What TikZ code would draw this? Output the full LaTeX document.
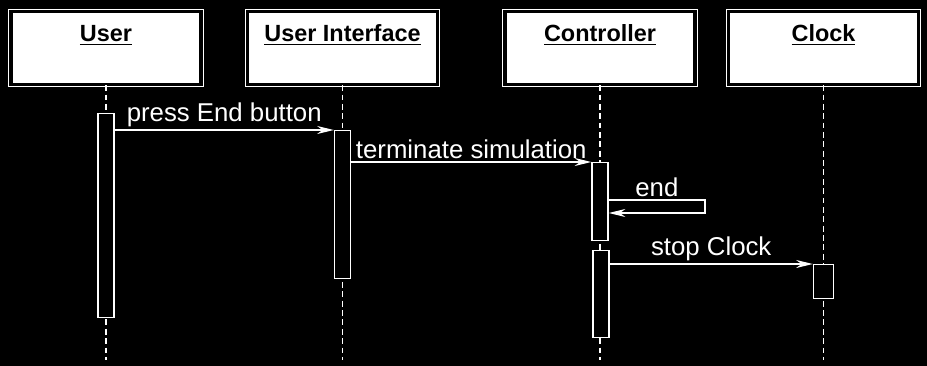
\documentclass[tikz,border=0pt]{standalone}
\usepackage{fontspec}
\setmainfont{Liberation Sans}
\usetikzlibrary{arrows.meta}
\usepackage{xcolor}
\definecolor{scanwhite}{HTML}{FFFFFF}
\definecolor{scanblack}{HTML}{000000}

\begin{document}
\begin{tikzpicture}[x=0.03cm, y=-0.03cm,
    objbox/.style={draw=scanwhite, double=scanblack, double distance=3pt, line width=0.8pt,
                   fill=scanwhite, minimum width=5.7cm, minimum height=2.2cm, inner sep=0pt},
    objname/.style={font=\fontsize{20}{24}\selectfont\bfseries, text=scanblack, anchor=base, inner sep=0pt},
    lifeline/.style={draw=scanwhite, line width=1pt, dash pattern=on 5pt off 3pt},
    actbar/.style={draw=scanwhite, fill=scanblack, line width=1.2pt, minimum width=0.48cm,
                   anchor=north, inner sep=0pt},
    msg/.style={draw=scanwhite, line width=1.2pt, -{Stealth[length=5mm, width=2.4mm]}},
    msglabel/.style={font=\fontsize{22}{26}\selectfont, text=scanwhite, above, inner sep=2pt}]
        \fill[scanblack] (0,0) rectangle (927,366);
        \useasboundingbox (0,0) rectangle (927,366);

        \node[objbox] (user)  at (106,48)   {};
        \node[objbox] (ui)    at (342.5,48) {};
        \node[objbox] (ctrl)  at (600,48)   {};
        \node[objbox] (clock) at (823.5,48) {};
        \node[objname] (userlbl)  at (106,42)   {\underline{User}};
        \node[objname] (uilbl)    at (342.5,42) {\underline{User Interface}};
        \node[objname] (ctrllbl)  at (600,42)   {\underline{Controller}};
        \node[objname] (clocklbl) at (823.5,42) {\underline{Clock}};

        \coordinate (bottom) at (0,360);
        \draw[lifeline] (user.south)  -- (user.south |- bottom);
        \draw[lifeline] (ui.south)    -- (ui.south |- bottom);
        \draw[lifeline] (ctrl.south)  -- (ctrl.south |- bottom);
        \draw[lifeline] (clock.south) -- (clock.south |- bottom);

        \node[actbar, minimum height=6.12cm] (useract)   at (106,113)   {};
        \node[actbar, minimum height=4.44cm] (uiact)     at (342.5,130) {};
        \node[actbar, minimum height=2.34cm] (ctrlact1)  at (600,162)   {};
        \node[actbar, minimum height=2.61cm] (ctrlact2)  at (601,250)   {};
        \node[actbar, minimum height=1.02cm, minimum width=0.6cm] (clockact) at (823.5,264) {};

        \draw[msg] (useract.east |- uiact.north) -- node[msglabel] (presslbl) {press End button} (uiact.north west);
        \draw[msg] (uiact.east |- ctrlact1.north) -- node[msglabel] (termlbl) {terminate simulation} (ctrlact1.north west);

        \coordinate (endtop) at (705,200);
        \coordinate (endbot) at (705,213);
        \draw[msg] (ctrlact1.east |- endtop) -- node[msglabel] (endlbl) {end} (endtop) -- (endbot) -- (ctrlact1.east |- endbot);

        \draw[msg] (ctrlact2.east |- clockact.north) -- node[msglabel] (stoplbl) {stop Clock} (clockact.north west);
\end{tikzpicture}
\end{document}
